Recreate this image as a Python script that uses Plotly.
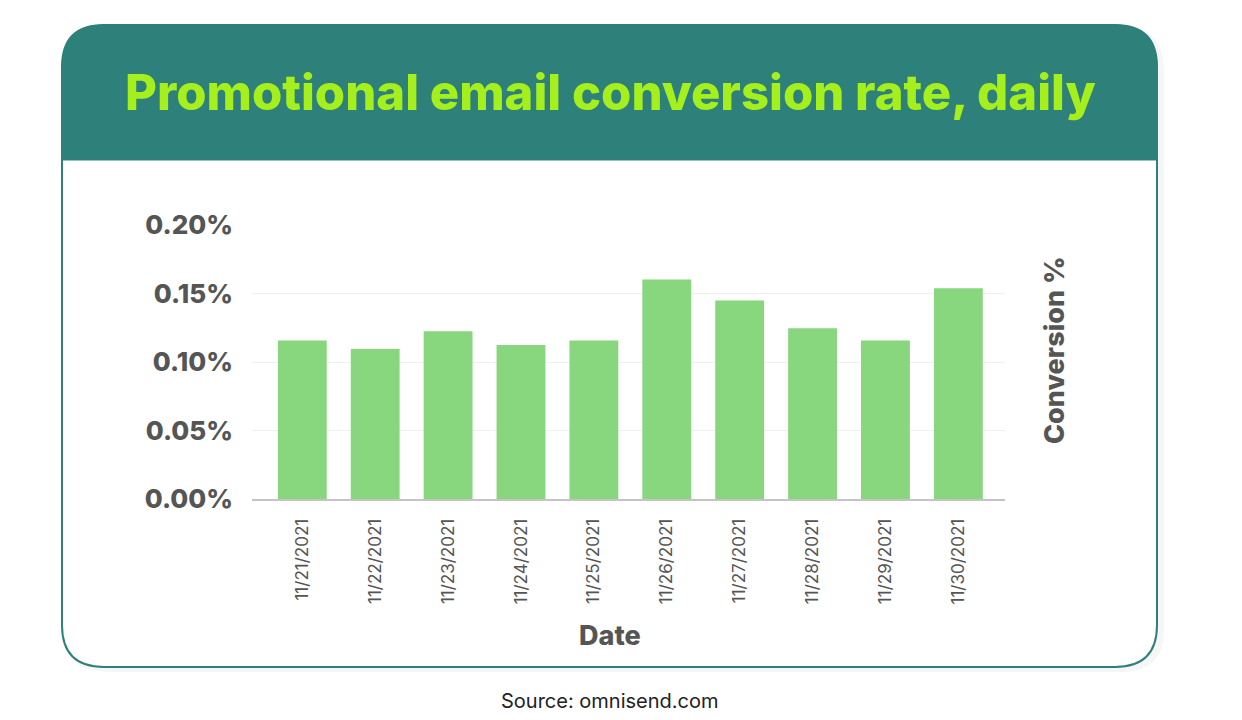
import plotly.graph_objects as go

# Data ---------------------------------------------------------------------------------------------
dates = ['11/21/2021', '11/22/2021', '11/23/2021', '11/24/2021', '11/25/2021',
         '11/26/2021', '11/27/2021', '11/28/2021', '11/29/2021', '11/30/2021']
conversion_pct = [0.1157, 0.1094, 0.1225, 0.1125, 0.1157, 0.1602, 0.1449, 0.1247, 0.1157, 0.1538]
y_ticks = [0, 0.05, 0.10, 0.15, 0.20]
y_tick_labels = [f"{v:.2f}%" for v in y_ticks]
# --------------------------------------------------------------------------------------------------

OFF = 8  # page body margin
W, H = 1242 - OFF, 720 - OFF
L, R, T, B = 252, 1005, 225, 499  # plot area, page pixels

TEAL = '#2e807a'
LIME = '#a4ef1c'
BAR = '#88d67e'
GREY = '#555555'


def px(x):
    return (x - L) / (R - L)


def py(y):
    return (B - y) / (B - T)


def rounded_rect(x0, y0, x1, y1, r_top, r_bot):
    # page pixel coords -> paper path, corners via quadratic curves
    def p(x, y):
        return f"{px(x):.5f},{py(y):.5f}"
    path = f"M {p(x0, y0 + r_top)} Q {p(x0, y0)} {p(x0 + r_top, y0)} "
    path += f"L {p(x1 - r_top, y0)} Q {p(x1, y0)} {p(x1, y0 + r_top)} "
    if r_bot:
        path += f"L {p(x1, y1 - r_bot)} Q {p(x1, y1)} {p(x1 - r_bot, y1)} "
        path += f"L {p(x0 + r_bot, y1)} Q {p(x0, y1)} {p(x0, y1 - r_bot)} Z"
    else:
        path += f"L {p(x1, y1)} L {p(x0, y1)} Z"
    return path


fig = go.Figure()
fig.add_trace(go.Bar(x=dates, y=conversion_pct, marker=dict(color=BAR, line_width=0),
                     hovertemplate='%{x}: %{y:.3f}%<extra></extra>'))

shapes = [
    # faint shadow
    dict(type='path', xref='paper', yref='paper', path=rounded_rect(64, 27, 1164, 672, 42, 42),
         fillcolor='rgba(0,0,0,0.035)', line_width=0, layer='below'),
    # card body
    dict(type='path', xref='paper', yref='paper', path=rounded_rect(62, 25, 1157, 667, 42, 42),
         fillcolor='white', line=dict(color=TEAL, width=2), layer='below'),
    # header band
    dict(type='path', xref='paper', yref='paper', path=rounded_rect(62, 25, 1157, 160, 42, 0),
         fillcolor=TEAL, line=dict(color=TEAL, width=1), layer='below'),
]

annotations = [
    dict(text='Promotional email conversion rate, daily', x=px(610), y=py(92),
         xref='paper', yref='paper', showarrow=False, xanchor='center', yanchor='middle',
         font=dict(family='Inter', size=49, color=LIME, weight=800)),
    dict(text='Date', x=px(610), y=py(635), xref='paper', yref='paper', showarrow=False,
         xanchor='center', yanchor='middle', font=dict(family='Inter', size=27, color=GREY, weight=800)),
    dict(text='Conversion %', x=px(1054), y=py(350), xref='paper', yref='paper', showarrow=False,
         textangle=-90, xanchor='center', yanchor='middle',
         font=dict(family='Inter', size=27, color=GREY, weight=800)),
    dict(text='Source: omnisend.com', x=px(609), y=py(701), xref='paper', yref='paper', showarrow=False,
         xanchor='center', yanchor='middle', font=dict(family='Inter', size=20, color='#222222')),
]

fig.update_layout(
    width=W, height=H,
    margin=dict(l=L - OFF, r=W - (R - OFF), t=T - OFF, b=H - (B - OFF), pad=0),
    paper_bgcolor='white',
    plot_bgcolor='rgba(0,0,0,0)',
    showlegend=False,
    bargap=0.33,
    shapes=shapes,
    annotations=annotations,
)

fig.update_xaxes(
    type='category', range=[-0.69, 9.64],
    tickangle=-90, tickfont=dict(family='Inter', size=17, color=GREY),
    ticks='', ticklabelstandoff=11,
    showline=True, linecolor='#c4c4c4', linewidth=2,
    showgrid=False, zeroline=False,
)

fig.update_yaxes(
    range=[0, 0.2], tickvals=y_ticks, ticktext=y_tick_labels,
    tickfont=dict(family='Inter', size=26, color=GREY, weight=800),
    ticklabelstandoff=18,
    showgrid=True, gridcolor='#f0f0f0', gridwidth=1,
    zeroline=False, showline=False,
)

fig.write_html("out.html")
